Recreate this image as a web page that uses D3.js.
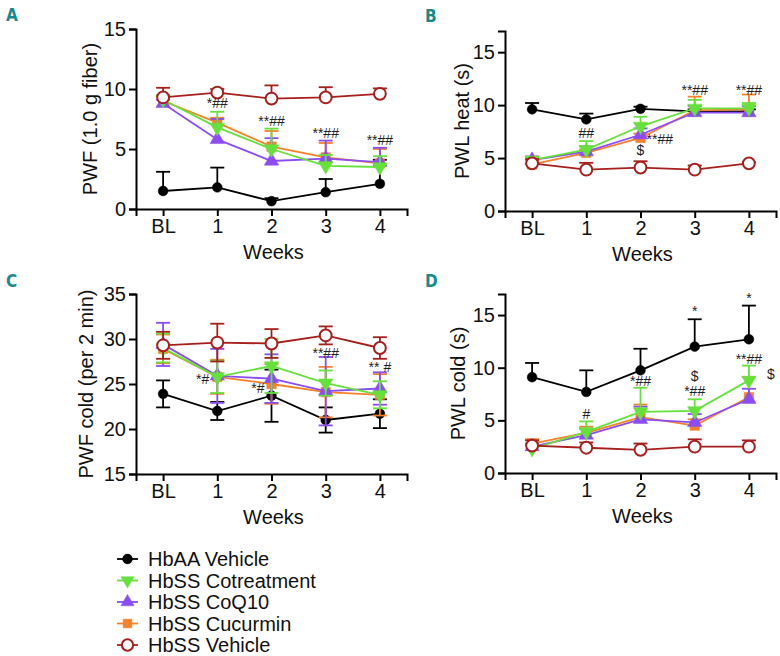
<!DOCTYPE html>
<html>
<head>
<meta charset="utf-8">
<script src="https://cdn.jsdelivr.net/npm/d3@7"></script>
<style>
  body { margin: 0; background: #fff; }
  text { font-family: "Liberation Sans", Arial, sans-serif; }
</style>
</head>
<body>
<div id="container"></div>
<script>
// categories
var weeks = ['BL', '1', '2', '3', '4'];
var groups = ['HbAA Vehicle', 'HbSS Cotreatment', 'HbSS CoQ10', 'HbSS Cucurmin', 'HbSS Vehicle'];

// A: PWF (1.0 g fiber), order = groups
var pwfMean = [
    [1.5, 1.8, 0.65, 1.4, 2.1],
    [9.1, 6.8, 5.0, 3.6, 3.5],
    [8.8, 5.8, 4.0, 4.2, 3.9],
    [9.0, 7.2, 5.2, 4.3, 3.8],
    [9.3, 9.7, 9.2, 9.3, 9.6]
];
var pwfErr = [
    [1.6, 1.65, 0.25, 1.1, 2.0],
    [0.4, 1.3, 1.7, 0.9, 0.9],
    [0.3, 1.7, 1.9, 1.5, 1.2],
    [0.5, 0.4, 1.3, 1.2, 1.2],
    [0.8, 0.3, 1.1, 0.85, 0.45]
];

// B: PWL heat (s)
var heatMean = [
    [9.6, 8.65, 9.65, 9.4, 9.4],
    [4.8, 5.8, 8.0, 9.7, 9.7],
    [4.8, 5.6, 7.2, 9.3, 9.3],
    [4.4, 5.5, 6.9, 9.5, 9.6],
    [4.5, 3.9, 4.1, 3.9, 4.5]
];
var heatErr = [
    [0.6, 0.55, 0.2, 0.2, 0.2],
    [0.3, 0.8, 0.9, 0.8, 0.5],
    [0.35, 0.5, 0.6, 0.6, 0.6],
    [0.4, 0.3, 0.4, 1.3, 1.4],
    [0.4, 0.65, 0.6, 0.4, 0.1]
];

// C: PWF cold (per 2 min)
var coldFreqMean = [
    [23.9, 22.0, 23.7, 21.0, 21.7],
    [29.0, 25.8, 27.0, 25.1, 23.8],
    [29.4, 25.9, 25.6, 24.2, 24.5],
    [28.9, 25.8, 25.0, 24.1, 23.8],
    [29.3, 29.6, 29.5, 30.4, 29.0]
];
var coldFreqErr = [
    [1.5, 1.0, 2.9, 1.4, 1.6],
    [1.6, 1.8, 3.0, 1.4, 1.5],
    [2.4, 3.0, 2.7, 3.8, 1.8],
    [1.6, 1.9, 2.2, 2.8, 2.3],
    [1.5, 2.1, 1.6, 1.0, 1.2]
];

// D: PWL cold (s)
var coldLatMean = [
    [9.1, 7.7, 9.75, 12.0, 12.7],
    [2.3, 3.9, 5.8, 5.9, 8.8],
    [2.5, 3.6, 5.1, 4.8, 7.0],
    [2.8, 3.8, 5.3, 4.5, 7.2],
    [2.6, 2.4, 2.2, 2.5, 2.5]
];
var coldLatErr = [
    [1.35, 2.05, 2.05, 2.6, 3.2],
    [0.4, 1.0, 2.3, 1.1, 1.4],
    [0.3, 0.6, 1.2, 0.8, 1.0],
    [0.4, 0.6, 1.2, 0.6, 1.9],
    [0.5, 0.5, 0.6, 0.7, 0.6]
];

// significance marks: [week index, y value, text, anchor, dx]
var pwfMarks = [[1, 8.8, '*##'], [2, 7.3, '**##'], [3, 6.3, '**##'], [4, 5.75, '**##']];
var heatMarks = [[1, 7.35, '##'], [2, 6.8, '**##', 'start', 6], [2, 5.75, '$'], [3, 11.4, '**##'], [4, 11.4, '**##']];
var coldFreqMarks = [[1, 25.55, '*#', 'end', -8], [2, 24.55, '*#', 'end', -7], [3, 28.4, '**##'], [4, 26.9, '** #']];
var coldLatMarks = [[3, 15.4, '*'], [4, 16.6, '*'], [4, 10.8, '**##'], [4, 9.4, '$', 'middle', 22], [2, 8.75, '*##'], [3, 9.25, '$'], [3, 7.8, '*##'], [1, 5.6, '#']];

var colors = ['#000000', '#66e03a', '#8b4cf5', '#f5822a', '#a61f1c'];
var symbols = [d3.symbolCircle, d3.symbolTriangle, d3.symbolTriangle, d3.symbolSquare, d3.symbolCircle];
var drawOrder = [0, 3, 2, 1, 4];

function main(){

    var svg = d3.select('#container')
        .append('svg')
        .attr('width', 780)
        .attr('height', 656);

    var panels = [
        {letter: 'A', lx: 6, ly: 21, left: 136, right: 407, top: 29, bottom: 209, domain: [0, 15], ticks: [0, 5, 10, 15],
         label: 'PWF (1.0 g fiber)', labelX: 90, mean: pwfMean, err: pwfErr, both: false, marks: pwfMarks},
        {letter: 'B', lx: 425, ly: 22, left: 505, right: 776, top: 31, bottom: 211, domain: [0, 17], ticks: [0, 5, 10, 15],
         label: 'PWL heat (s)', labelX: 462, mean: heatMean, err: heatErr, both: false, marks: heatMarks},
        {letter: 'C', lx: 6, ly: 287, left: 136, right: 407, top: 294, bottom: 474, domain: [15, 35], ticks: [15, 20, 25, 30, 35],
         label: 'PWF cold (per 2 min)', labelX: 86, mean: coldFreqMean, err: coldFreqErr, both: true, marks: coldFreqMarks},
        {letter: 'D', lx: 425, ly: 287, left: 505, right: 776, top: 294, bottom: 473, domain: [0, 17], ticks: [0, 5, 10, 15],
         label: 'PWL cold (s)', labelX: 458, mean: coldLatMean, err: coldLatErr, both: false, marks: coldLatMarks}
    ];

    panels.forEach(drawPanel);

    function drawPanel(p){
        var g = svg.append('g');
        var x = d3.scaleLinear().domain([-0.5, 4.5]).range([p.left, p.right]);
        var y = d3.scaleLinear().domain(p.domain).range([p.bottom, p.top]);

        g.append('text')
            .attr('x', p.lx).attr('y', p.ly)
            .style('font-family', '"Liberation Sans Narrow", "DejaVu Sans Condensed", sans-serif')
            .style('font-weight', 'bold')
            .style('font-size', '17px')
            .attr('fill', '#178a8c')
            .text(p.letter);

        var yAxis = g.append('g')
            .attr('transform', 'translate(' + p.left + ',0)')
            .call(d3.axisLeft(y).tickValues(p.ticks).tickSizeOuter(0).tickSize(7).tickPadding(3));
        var xAxis = g.append('g')
            .attr('transform', 'translate(0,' + p.bottom + ')')
            .call(d3.axisBottom(x).tickValues([0, 1, 2, 3, 4]).tickFormat(function(i){ return weeks[i]; })
                .tickSizeOuter(0).tickSize(7).tickPadding(3));
        [yAxis, xAxis].forEach(function(a){
            a.select('.domain').attr('stroke-width', 2);
            a.selectAll('.tick line').attr('stroke-width', 2);
            a.selectAll('.tick text').style('font-size', '20px').attr('fill', '#111');
        });

        g.append('text')
            .attr('x', (p.left + p.right) / 2 + 2)
            .attr('y', p.bottom + 50)
            .attr('text-anchor', 'middle')
            .style('font-size', '20px')
            .attr('fill', '#111')
            .text('Weeks');

        g.append('text')
            .attr('transform', 'translate(' + p.labelX + ',' + ((p.top + p.bottom) / 2) + ') rotate(-90)')
            .attr('text-anchor', 'middle')
            .attr('dy', '0.35em')
            .style('font-size', '20px')
            .attr('fill', '#111')
            .text(p.label);

        var line = d3.line().x(function(d, i){ return x(i); }).y(function(d){ return y(d); });

        drawOrder.forEach(function(s){
            var col = colors[s];
            var sg = g.append('g');
            // error bars
            p.mean[s].forEach(function(m, i){
                var e = p.err[s][i];
                var lo = p.both ? m - e : m;
                sg.append('line')
                    .attr('x1', x(i)).attr('x2', x(i))
                    .attr('y1', y(lo)).attr('y2', y(m + e))
                    .attr('stroke', col).attr('stroke-width', 1.8);
                sg.append('line')
                    .attr('x1', x(i) - 7).attr('x2', x(i) + 7)
                    .attr('y1', y(m + e)).attr('y2', y(m + e))
                    .attr('stroke', col).attr('stroke-width', 1.8);
                if (p.both) {
                    sg.append('line')
                        .attr('x1', x(i) - 7).attr('x2', x(i) + 7)
                        .attr('y1', y(lo)).attr('y2', y(lo))
                        .attr('stroke', col).attr('stroke-width', 1.8);
                }
            });
            sg.append('path')
                .datum(p.mean[s])
                .attr('d', line)
                .attr('fill', 'none')
                .attr('stroke', col)
                .attr('stroke-width', 1.8);
            sg.selectAll('.pt')
                .data(p.mean[s])
                .enter()
                .append('path')
                .attr('d', d3.symbol().type(symbols[s]).size(s == 4 ? 110 : (s == 0 ? 75 : 90)))
                .attr('transform', function(d, i){
                    var rot = s == 1 ? ' rotate(180)' : '';
                    return 'translate(' + x(i) + ',' + y(d) + ')' + rot;
                })
                .attr('fill', s == 4 ? '#fff' : col)
                .attr('stroke', col)
                .attr('stroke-width', s == 4 ? 2 : 0.5);
        });

        p.marks.forEach(function(m){
            g.append('text')
                .attr('x', x(m[0]) + (m[4] || 0))
                .attr('y', y(m[1]))
                .attr('dy', '0.35em')
                .attr('text-anchor', m[3] || 'middle')
                .style('font-size', '14px')
                .attr('fill', '#222')
                .text(m[2]);
        });
    }

    // legend
    var legend = svg.append('g');
    var ly = d3.scaleLinear().domain([0, 4]).range([559, 645]);
    groups.forEach(function(name, s){
        var row = legend.append('g').attr('transform', 'translate(0,' + ly(s) + ')');
        row.append('line')
            .attr('x1', 117).attr('x2', 138)
            .attr('stroke', colors[s]).attr('stroke-width', 1.8);
        row.append('path')
            .attr('d', d3.symbol().type(symbols[s]).size(s == 4 ? 100 : 75))
            .attr('transform', 'translate(127.5,0)' + (s == 1 ? ' rotate(180)' : ''))
            .attr('fill', s == 4 ? '#fff' : colors[s])
            .attr('stroke', colors[s])
            .attr('stroke-width', s == 4 ? 2 : 0.5);
        row.append('text')
            .attr('x', 148)
            .attr('dy', '0.35em')
            .style('font-size', '20px')
            .attr('fill', '#111')
            .text(name);
    });
}
main();
</script>
</body>
</html>
